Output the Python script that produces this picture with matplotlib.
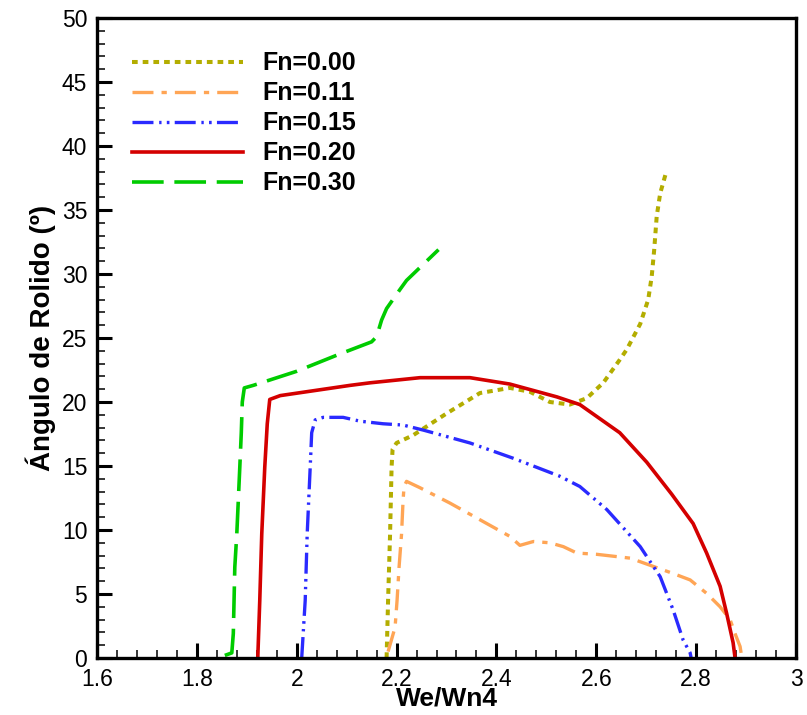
import matplotlib
matplotlib.use('Agg')
import matplotlib.pyplot as plt
from matplotlib.ticker import MultipleLocator

plt.rcParams['font.family'] = ['Liberation Sans', 'DejaVu Sans']
plt.rcParams['lines.scale_dashes'] = False

# roll angle vs. encounter frequency ratio, one curve per Froude number
fn000_x = [2.180, 2.183, 2.187, 2.190, 2.192, 2.200, 2.233, 2.300, 2.367, 2.427, 2.467, 2.507,
           2.547, 2.581, 2.614, 2.647, 2.661, 2.688, 2.704, 2.711, 2.716, 2.721, 2.728, 2.741]
fn000_y = [0.0, 4.5, 9.7, 14.9, 16.3, 16.8, 17.4, 19.1, 20.7, 21.1, 20.8, 20.0,
           19.8, 20.3, 21.5, 23.3, 24.1, 26.1, 28.0, 29.8, 31.9, 34.5, 36.3, 38.1]

fn011_x = [2.183, 2.197, 2.201, 2.205, 2.210, 2.213, 2.215, 2.220, 2.247, 2.307, 2.367, 2.427, 2.447,
           2.474, 2.507, 2.534, 2.561, 2.601, 2.668, 2.754, 2.788, 2.821, 2.848, 2.868, 2.878, 2.888, 2.890]
fn011_y = [0.5, 2.4, 4.5, 7.1, 9.7, 12.3, 13.4, 13.8, 13.3, 12.1, 10.8, 9.5, 8.8,
           9.1, 9.0, 8.7, 8.2, 8.1, 7.8, 6.6, 6.1, 5.05, 4.0, 3.0, 1.9, 0.9, 0.4]

fn015_x = [2.010, 2.017, 2.021, 2.027, 2.030, 2.037, 2.053, 2.093, 2.127, 2.173, 2.213, 2.254,
           2.347, 2.434, 2.527, 2.567, 2.621, 2.688, 2.728, 2.754, 2.774, 2.788, 2.790]
fn015_y = [0.0, 4.5, 9.7, 14.9, 17.6, 18.6, 18.8, 18.8, 18.5, 18.3, 18.2, 17.8,
           16.8, 15.6, 14.2, 13.4, 11.6, 8.7, 6.35, 3.75, 1.4, 0.4, 0.0]

fn020_x = [1.922, 1.926, 1.930, 1.936, 1.941, 1.946, 1.967, 2.107, 2.147, 2.247, 2.347, 2.427,
           2.521, 2.567, 2.647, 2.701, 2.751, 2.794, 2.821, 2.848, 2.861, 2.874, 2.878]
fn020_y = [0.0, 4.5, 9.7, 14.9, 18.3, 20.2, 20.5, 21.3, 21.5, 21.9, 21.9, 21.4,
           20.4, 19.8, 17.6, 15.3, 12.8, 10.5, 8.2, 5.6, 3.5, 1.2, 0.0]

fn030_x = [1.856, 1.870, 1.873, 1.876, 1.880, 1.883, 1.886, 1.889, 1.891, 1.895, 1.913, 2.000,
           2.083, 2.150, 2.160, 2.170, 2.180, 2.207, 2.220, 2.284]
fn030_y = [0.2, 0.4, 1.9, 7.1, 9.7, 12.3, 14.9, 17.6, 20.0, 21.1, 21.3, 22.4,
           23.7, 24.7, 25.1, 26.4, 27.3, 28.8, 29.5, 31.9]

labels = ['Fn=0.00', 'Fn=0.11', 'Fn=0.15', 'Fn=0.20', 'Fn=0.30']

fig = plt.figure(figsize=(8.07, 7.15), dpi=100)
ax = fig.add_axes([97 / 807, 1 - 658 / 715, 699 / 807, 640 / 715])

ax.plot(fn000_x, fn000_y, color='#b3ad00', lw=2.9, dashes=(4.1, 3.6), label=labels[0])
ax.plot(fn011_x, fn011_y, color='#ffa555', lw=2.4, dashes=(15.1, 5.8, 3.8, 5.8), label=labels[1])
ax.plot(fn015_x, fn015_y, color='#2a2aff', lw=2.4,
        dashes=(15.1, 4.1, 1.7, 3.8, 1.9, 3.8), label=labels[2])
ax.plot(fn020_x, fn020_y, color='#d40000', lw=2.6, label=labels[3])
ax.plot(fn030_x, fn030_y, color='#00cc00', lw=2.6, dashes=(22.8, 7.7), label=labels[4])

ax.set_xlim(1.6, 3.0)
ax.set_ylim(0, 50)
ax.xaxis.set_minor_locator(MultipleLocator(0.04))
ax.yaxis.set_major_locator(MultipleLocator(5))
ax.yaxis.set_minor_locator(MultipleLocator(1))
ax.set_xticks([1.6, 1.8, 2.0, 2.2, 2.4, 2.6, 2.8, 3.0])
ax.set_xticklabels(['1.6', '1.8', '2', '2.2', '2.4', '2.6', '2.8', '3'])

ax.tick_params(which='major', direction='in', length=10.5, width=2.2, labelsize=16.5,
               top=False, right=False)
ax.tick_params(which='minor', direction='in', length=5.8, width=1.1, top=False, right=False)
ax.tick_params(axis='x', which='major', pad=7)
ax.tick_params(axis='y', which='major', pad=7)
for sp in ax.spines.values():
    sp.set_linewidth(2.4)

ax.set_xlabel('We/Wn4', fontsize=19, fontweight='bold', labelpad=-3)
ax.set_ylabel('Ángulo de Rolido (º)', fontsize=20, fontweight='bold', labelpad=4)

leg = ax.legend(loc='upper left', bbox_to_anchor=(0.05, 0.948), frameon=False,
                prop={'weight': 'bold', 'size': 18}, handlelength=4.44, handletextpad=0.78,
                labelspacing=0.24, borderpad=0, borderaxespad=0)

fig.savefig('out.png', dpi=100)
